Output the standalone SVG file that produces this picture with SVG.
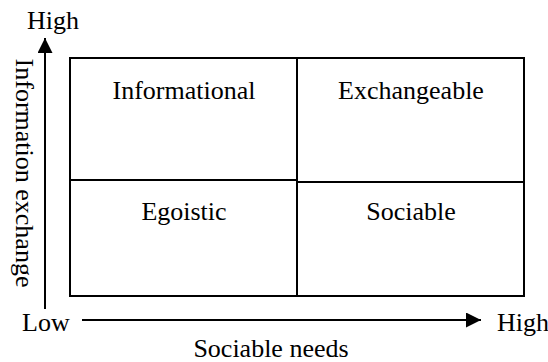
<svg xmlns="http://www.w3.org/2000/svg" width="548" height="362" viewBox="0 0 548 362">
  <style>
    text { font-family: 'Liberation Serif', 'Times New Roman', 'DejaVu Serif', serif; font-size: 26px; fill: #000; }
    .cell { fill: #fff; stroke: #000; stroke-width: 2; }
    .axis { stroke: #000; stroke-width: 2; fill: none; }
    .mid { text-anchor: middle; }
  </style>
  <defs>
    <marker id="head" viewBox="0 0 15 15" refX="15" refY="7.5" markerWidth="15" markerHeight="15" markerUnits="userSpaceOnUse" orient="auto">
      <path d="M0,0 L15,7.5 L0,15 Z" fill="#000"/>
    </marker>
  </defs>
  <rect width="548" height="362" fill="#fff"/>

  <!-- quadrants -->
  <g id="informational">
    <rect class="cell" x="70" y="58" width="227" height="122"/>
    <text class="mid" x="184" y="99">Informational</text>
  </g>
  <g id="exchangeable">
    <rect class="cell" x="297" y="58" width="227" height="124"/>
    <text class="mid" x="411" y="99">Exchangeable</text>
  </g>
  <g id="egoistic">
    <rect class="cell" x="70" y="180" width="227" height="116"/>
    <text class="mid" x="184" y="220">Egoistic</text>
  </g>
  <g id="sociable">
    <rect class="cell" x="297" y="182" width="227" height="114"/>
    <text class="mid" x="411" y="220">Sociable</text>
  </g>

  <!-- axes -->
  <g id="axes">
    <line class="axis" x1="45" y1="309" x2="45" y2="38" marker-end="url(#head)"/>
    <line class="axis" x1="82" y1="320" x2="481" y2="320" marker-end="url(#head)"/>
  </g>

  <!-- axis labels -->
  <g id="labels">
    <text class="mid" x="53" y="29">High</text>
    <text x="22" y="331">Low</text>
    <text x="497" y="331">High</text>
    <text class="mid" x="271" y="357">Sociable needs</text>
    <text class="mid" transform="translate(16,173) rotate(90)">Information exchange</text>
  </g>
</svg>
